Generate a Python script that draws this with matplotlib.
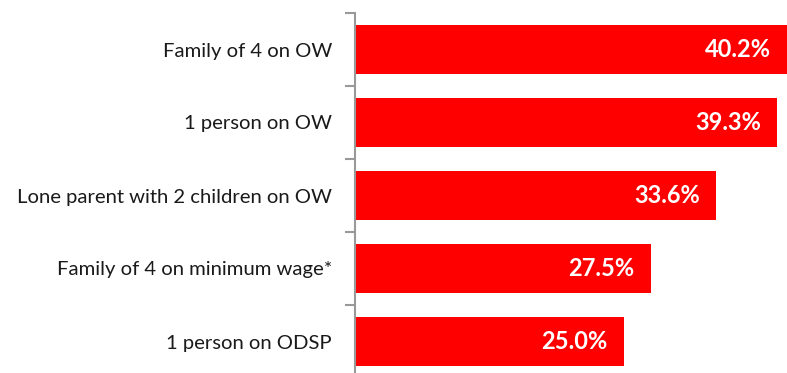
import matplotlib
matplotlib.use("Agg")
import matplotlib.pyplot as plt

categories = ["Family of 4 on OW", "1 person on OW", "Lone parent with 2 children on OW",
              "Family of 4 on minimum wage*", "1 person on ODSP"]
values = [40.2, 39.3, 33.6, 27.5, 25.0]
value_labels = ["40.2%", "39.3%", "33.6%", "27.5%", "25.0%"]

plt.rcParams['font.family'] = ['Lato', 'DejaVu Sans']

fig = plt.figure(figsize=(7.87, 3.73), dpi=100)
ax = fig.add_axes([355/787, -5/373, 1 - 355/787, (378-13)/373])

ypos = list(range(len(categories)))
ax.barh(ypos, values, height=0.66, color="#ff0000")
ax.set_xlim(0, 40.2)
ax.set_ylim(len(categories) - 0.5, -0.5)

for y, v, lab in zip(ypos, values, value_labels):
    ax.annotate(lab, xy=(v, y), xytext=(-11.5, 0), textcoords="offset points",
                ha="right", va="center", color="white", fontsize=17, fontweight="bold")

ax.set_yticks(ypos)
ax.set_yticklabels(categories, fontsize=14.6, color="#1a1a1a")
ax.set_yticks([i - 0.5 for i in range(len(categories) + 1)], minor=True)
ax.tick_params(axis="y", which="major", length=0, pad=16.5)
ax.tick_params(axis="y", which="minor", length=7, width=1.5, color="#999999")
ax.set_xticks([])
for s in ["top", "right", "bottom"]:
    ax.spines[s].set_visible(False)
ax.spines["left"].set_color("#999999")
ax.spines["left"].set_linewidth(1.5)

fig.savefig("out.png", dpi=100)
